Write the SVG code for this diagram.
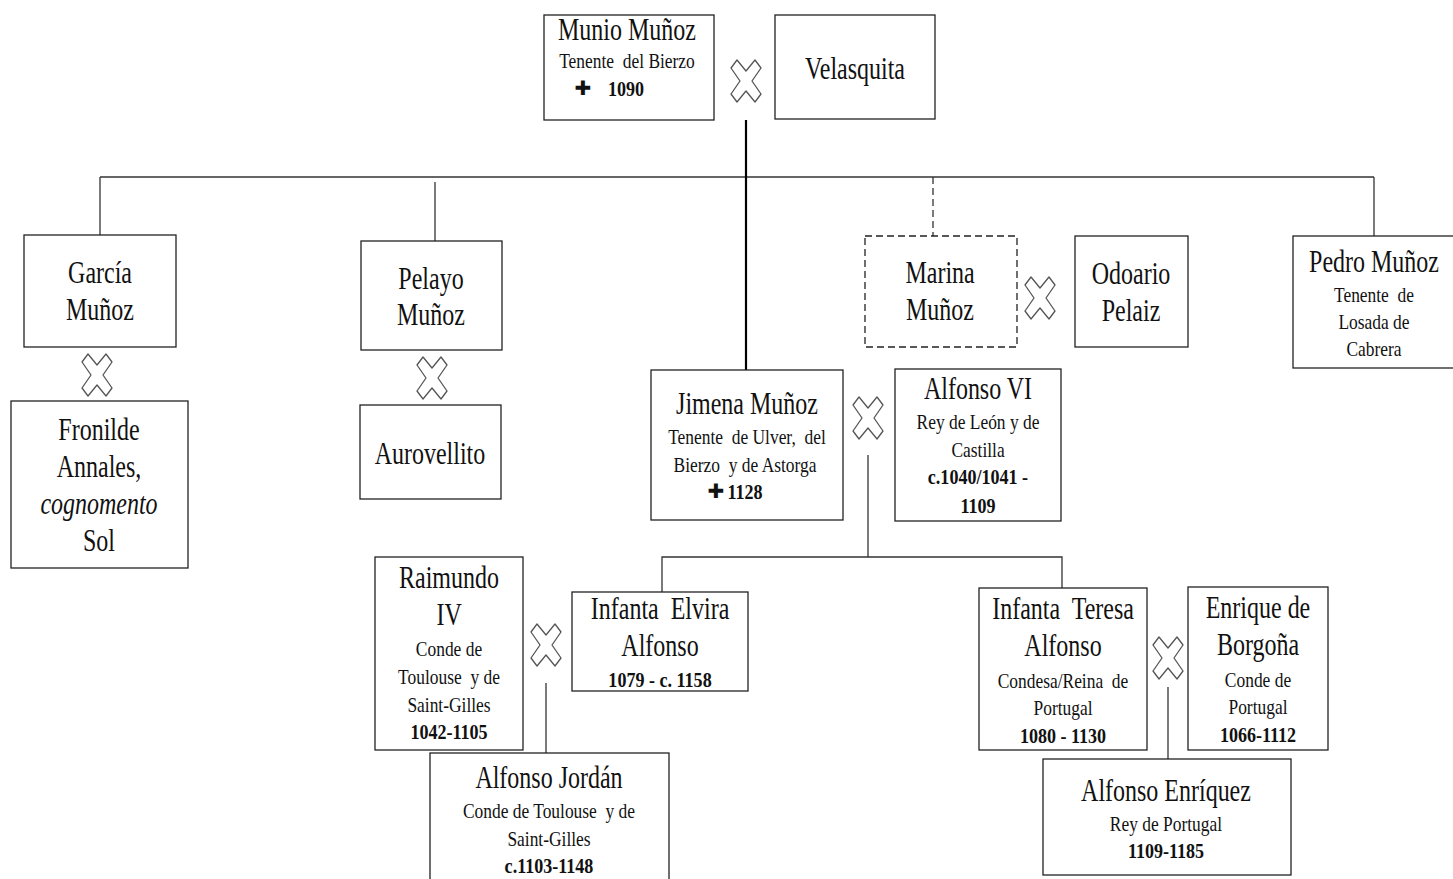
<svg xmlns="http://www.w3.org/2000/svg" width="1453" height="879" viewBox="0 0 1453 879">
  <style>
    text { font-family: "Liberation Serif", "DejaVu Serif", "Times New Roman", serif; fill: #111; text-anchor: middle; transform-box: fill-box; transform-origin: center; }
    .big { font-size: 32px; transform: scaleX(0.75); }
    .sm { font-size: 21px; transform: scaleX(0.83); }
    .bd { font-size: 21px; font-weight: bold; transform: scaleX(0.86); }
    .it { font-style: italic; }
    .cross { font-family: "DejaVu Sans", sans-serif; font-size: 20px; font-weight: bold; transform: none; }
    .box { fill: #fff; stroke: #222; stroke-width: 1.3; }
    .dash { stroke-dasharray: 7 4; }
    .ln { fill: none; stroke: #333; stroke-width: 1.3; }
    .main { stroke: #000; stroke-width: 2.2; }
    .mx { fill: #fff; stroke: #555; stroke-width: 1.3; stroke-linejoin: round; }
  </style>
  <defs>
    <!-- hollow marriage cross -->
    <symbol id="wed" viewBox="-16 -22 32 44" overflow="visible">
      <polygon class="mx" points="-15,-13 -9,-21 0,-10 9,-21 15,-13 6,0 15,13 9,21 0,10 -9,21 -15,13 -6,0"/>
    </symbol>
  </defs>
  <rect width="1453" height="879" fill="#fff"/>

  <g id="connectors">
    <line class="ln" x1="100" y1="177" x2="1374" y2="177" stroke="#444" stroke-width="1.6"/>
    <line class="ln main" x1="746" y1="120" x2="746" y2="370"/>
    <line class="ln" x1="100" y1="177" x2="100" y2="235"/>
    <line class="ln" x1="435" y1="182" x2="435" y2="241"/>
    <line class="ln dash" x1="933" y1="177" x2="933" y2="236"/>
    <line class="ln" x1="1374" y1="177" x2="1374" y2="236"/>
    <polyline class="ln" points="868,455 868,557"/>
    <polyline class="ln" points="662,592 662,557 1062,557 1062,588"/>
    <line class="ln" x1="546" y1="683" x2="546" y2="753"/>
    <line class="ln" x1="1168" y1="687" x2="1168" y2="759"/>
    <!-- marriage symbols -->
    <use href="#wed" x="730" y="59" width="32" height="44"/>
    <use href="#wed" x="81" y="353" width="32" height="44"/>
    <use href="#wed" x="416" y="356" width="32" height="44"/>
    <use href="#wed" x="1024" y="276" width="32" height="44"/>
    <use href="#wed" x="852" y="396" width="32" height="44"/>
    <use href="#wed" x="530" y="623" width="32" height="44"/>
    <use href="#wed" x="1152" y="636" width="32" height="44"/>
  </g>

  <g id="munio">
    <rect class="box" x="544" y="15" width="170" height="105"/>
    <text class="big" x="627" y="40">Munio Muñoz</text>
    <text class="sm" x="627" y="68">Tenente&#160; del Bierzo</text>
    <text class="cross" x="583" y="95">✚</text>
    <text class="bd" x="626" y="96">1090</text>
  </g>
  <g id="velasquita">
    <rect class="box" x="775" y="15" width="160" height="104"/>
    <text class="big" x="855" y="79">Velasquita</text>
  </g>

  <g id="garcia">
    <rect class="box" x="24" y="235" width="152" height="112"/>
    <text class="big" x="100" y="283">García</text>
    <text class="big" x="100" y="320">Muñoz</text>
  </g>
  <g id="fronilde">
    <rect class="box" x="11" y="401" width="177" height="167"/>
    <text class="big" x="99" y="440">Fronilde</text>
    <text class="big" x="99" y="477">Annales,</text>
    <text class="big it" x="99" y="514">cognomento</text>
    <text class="big" x="99" y="551">Sol</text>
  </g>

  <g id="pelayo">
    <rect class="box" x="361" y="241" width="141" height="109"/>
    <text class="big" x="431" y="289">Pelayo</text>
    <text class="big" x="431" y="325">Muñoz</text>
  </g>
  <g id="aurovellito">
    <rect class="box" x="360" y="405" width="141" height="94"/>
    <text class="big" x="430" y="464">Aurovellito</text>
  </g>

  <g id="marina">
    <rect class="box dash" x="865" y="236" width="152" height="111"/>
    <text class="big" x="940" y="283">Marina</text>
    <text class="big" x="940" y="320">Muñoz</text>
  </g>
  <g id="odoario">
    <rect class="box" x="1075" y="236" width="113" height="111"/>
    <text class="big" x="1131" y="284">Odoario</text>
    <text class="big" x="1131" y="321">Pelaiz</text>
  </g>

  <g id="pedro">
    <rect class="box" x="1293" y="236" width="162" height="132"/>
    <text class="big" x="1374" y="272">Pedro Muñoz</text>
    <text class="sm" x="1374" y="302">Tenente&#160; de</text>
    <text class="sm" x="1374" y="329">Losada de</text>
    <text class="sm" x="1374" y="356">Cabrera</text>
  </g>

  <g id="jimena">
    <rect class="box" x="651" y="370" width="192" height="150"/>
    <text class="big" x="747" y="414">Jimena Muñoz</text>
    <text class="sm" x="747" y="444">Tenente&#160; de Ulver,&#160; del</text>
    <text class="sm" x="745" y="472">Bierzo&#160; y de Astorga</text>
    <text class="cross" x="716" y="498">✚</text>
    <text class="bd" x="745" y="499">1128</text>
  </g>
  <g id="alfonso-vi">
    <rect class="box" x="895" y="369" width="166" height="152"/>
    <text class="big" x="978" y="399">Alfonso VI</text>
    <text class="sm" x="978" y="429">Rey de León y de</text>
    <text class="sm" x="978" y="457">Castilla</text>
    <text class="bd" x="978" y="484">c.1040/1041 -</text>
    <text class="bd" x="978" y="513">1109</text>
  </g>

  <g id="raimundo">
    <rect class="box" x="375" y="557" width="148" height="193"/>
    <text class="big" x="449" y="588">Raimundo</text>
    <text class="big" x="449" y="625">IV</text>
    <text class="sm" x="449" y="656">Conde de</text>
    <text class="sm" x="449" y="684">Toulouse&#160; y de</text>
    <text class="sm" x="449" y="712">Saint-Gilles</text>
    <text class="bd" x="449" y="739">1042-1105</text>
  </g>
  <g id="elvira">
    <rect class="box" x="572" y="592" width="176" height="99"/>
    <text class="big" x="660" y="619">Infanta&#160; Elvira</text>
    <text class="big" x="660" y="656">Alfonso</text>
    <text class="bd" x="660" y="687">1079 - c. 1158</text>
  </g>
  <g id="alfonso-jordan">
    <rect class="box" x="430" y="753" width="239" height="130"/>
    <text class="big" x="549" y="788">Alfonso Jordán</text>
    <text class="sm" x="549" y="818">Conde de Toulouse&#160; y de</text>
    <text class="sm" x="549" y="846">Saint-Gilles</text>
    <text class="bd" x="549" y="873">c.1103-1148</text>
  </g>

  <g id="teresa">
    <rect class="box" x="979" y="588" width="168" height="162"/>
    <text class="big" x="1063" y="619">Infanta&#160; Teresa</text>
    <text class="big" x="1063" y="656">Alfonso</text>
    <text class="sm" x="1063" y="688">Condesa/Reina&#160; de</text>
    <text class="sm" x="1063" y="715">Portugal</text>
    <text class="bd" x="1063" y="743">1080 - 1130</text>
  </g>
  <g id="enrique">
    <rect class="box" x="1188" y="587" width="140" height="163"/>
    <text class="big" x="1258" y="618">Enrique de</text>
    <text class="big" x="1258" y="655">Borgoña</text>
    <text class="sm" x="1258" y="687">Conde de</text>
    <text class="sm" x="1258" y="714">Portugal</text>
    <text class="bd" x="1258" y="742">1066-1112</text>
  </g>
  <g id="alfonso-enriquez">
    <rect class="box" x="1043" y="759" width="248" height="116"/>
    <text class="big" x="1166" y="801">Alfonso Enríquez</text>
    <text class="sm" x="1166" y="831">Rey de Portugal</text>
    <text class="bd" x="1166" y="858">1109-1185</text>
  </g>
</svg>
